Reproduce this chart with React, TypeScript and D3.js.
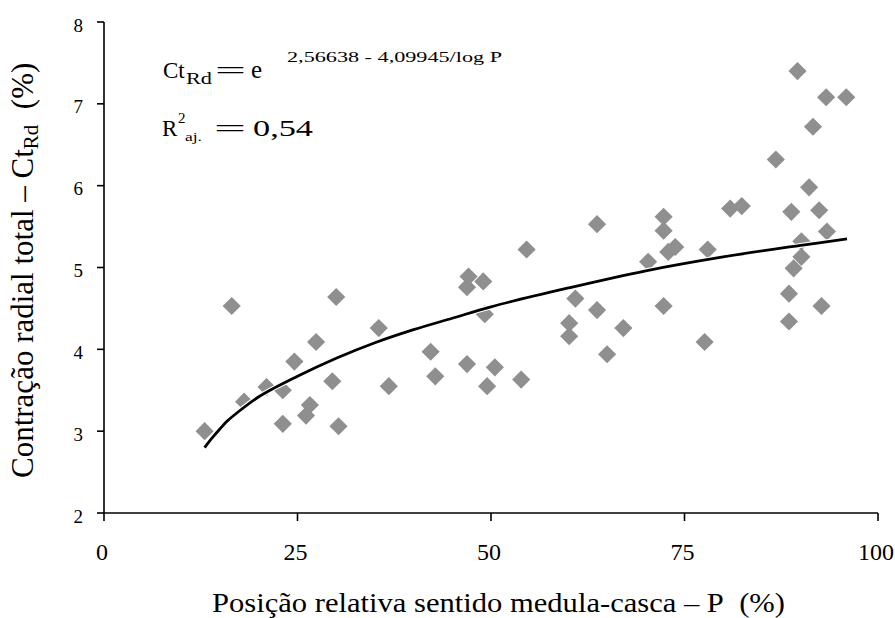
import React from "react";
import * as d3 from "d3";

// Observed data points: P (%) and CtRd (%)
const pointsP = [
  13.0, 16.5, 18.1, 21.0, 23.1, 24.6, 27.4, 30.0, 29.5, 26.6, 26.1, 23.1, 30.3,
  35.5, 36.8, 42.2, 42.8, 46.9, 49.5, 50.5, 53.9, 54.6, 47.1, 46.9, 49.0, 49.2,
  60.1, 60.1, 60.9, 63.7, 63.7, 67.1, 65.0, 70.3, 72.3, 72.3, 73.8, 72.9, 72.3,
  78.0, 77.6, 80.9, 82.4, 89.6, 93.3, 95.9, 91.6, 86.8, 91.1, 88.8, 92.4, 93.4,
  90.1, 90.1, 89.1, 88.5, 92.7, 88.5,
];
const pointsV = [
  3.0, 4.53, 3.36, 3.54, 3.5, 3.85, 4.09, 4.64, 3.61, 3.32, 3.19, 3.09, 3.06,
  4.26, 3.55, 3.97, 3.67, 3.82, 3.55, 3.78, 3.63, 5.22, 4.89, 4.76, 4.83, 4.43,
  4.32, 4.16, 4.62, 4.48, 5.53, 4.26, 3.94, 5.07, 5.62, 5.45, 5.25, 5.19, 4.53,
  5.22, 4.09, 5.72, 5.75, 7.4, 7.08, 7.08, 6.72, 6.32, 5.98, 5.68, 5.7, 5.44,
  5.32, 5.13, 4.99, 4.68, 4.53, 4.34,
];

// Fitted curve
const curveP = [13, 14, 15, 16, 17, 20, 25, 30, 35, 40, 45, 50, 60, 70, 80, 90, 96];
const curveV = [2.8, 2.92, 3.03, 3.13, 3.21, 3.42, 3.67, 3.89, 4.08, 4.24, 4.38, 4.52, 4.75, 4.96, 5.13, 5.27, 5.35];

const xTicks = [0, 25, 50, 75, 100];
const yTicks = [2, 3, 4, 5, 6, 7, 8];

const W = 895;
const H = 618;
const FF = "Liberation Serif";

export default function App() {
  const x = d3.scaleLinear().domain([0, 100]).range([104, 878]);
  const y = d3.scaleLinear().domain([2, 8]).range([513, 22]);

  const line = d3
    .line<number>()
    .x((_, i) => x(curveP[i]))
    .y((v) => y(v))
    .curve(d3.curveCatmullRom);
  const curvePath = line(curveV) || "";

  const diamond = d3.symbol().type(d3.symbolSquare).size(165)() || "";

  return (
    <svg
      width={W}
      height={H}
      fontFamily={FF}
      style={{ position: "absolute", left: 0, top: 0, background: "#fff" }}
    >
      <rect x={0} y={0} width={W} height={H} fill="#fff" />

      {/* points */}
      <g fill="#8f8f8f">
        {pointsP.map((p, i) => (
          <path
            key={i}
            d={diamond}
            transform={`translate(${x(p)},${y(pointsV[i])}) rotate(45)`}
          />
        ))}
      </g>

      {/* fitted curve */}
      <path d={curvePath} fill="none" stroke="#fff" strokeWidth={5} />
      <path d={curvePath} fill="none" stroke="#000" strokeWidth={2.8} />

      {/* axes */}
      <g stroke="#000" strokeWidth={1.6} fill="none">
        <line x1={x(0)} y1={y(8)} x2={x(0)} y2={y(2)} />
        <line x1={x(0)} y1={y(2)} x2={x(100)} y2={y(2)} />
        {yTicks.map((t) => (
          <line key={"yt" + t} x1={x(0) - 7} x2={x(0)} y1={y(t)} y2={y(t)} />
        ))}
        {xTicks.map((t) => (
          <line key={"xt" + t} x1={x(t)} x2={x(t)} y1={y(2)} y2={y(2) + 8} />
        ))}
      </g>

      {/* tick labels */}
      {yTicks.map((t) => (
        <text key={"yl" + t} x={83} y={y(t) + 9.5} fontFamily={FF} fontSize={19} textAnchor="end">
          {t}
        </text>
      ))}
      {xTicks.map((t) => (
        <text key={"xl" + t} x={x(t) - 2} y={560} fontFamily={FF} fontSize={24} textAnchor="middle">
          {t}
        </text>
      ))}

      {/* axis titles */}
      <text
        x={212}
        y={612}
        fontFamily={FF}
        fontSize={27}
        textLength={573}
        lengthAdjust="spacingAndGlyphs"
      >
        {"Posição relativa sentido medula-casca – P\u00a0\u00a0(%)"}
      </text>
      <g transform="translate(33,478) rotate(-90)">
        <text x={0} y={0} fontFamily={FF} fontSize={31}>
          Contração radial total – Ct
          <tspan fontSize={21} dy={5}>Rd</tspan>
          <tspan dy={-5}>{"\u00a0\u00a0(%)"}</tspan>
        </text>
      </g>

      {/* equation */}
      <g fill="#000">
        <text x={163} y={78} fontFamily={FF} fontSize={23}>Ct</text>
        <text x={186} y={84} fontFamily={FF} fontSize={16} textLength={26} lengthAdjust="spacingAndGlyphs">Rd</text>
        <text x={215} y={78} fontFamily={FF} fontSize={23} textLength={31} lengthAdjust="spacingAndGlyphs">=</text>
        <text x={251} y={78} fontFamily={FF} fontSize={25}>e</text>
        <text x={287} y={62} fontFamily={FF} fontSize={15} textLength={215} lengthAdjust="spacingAndGlyphs">
          2,56638 - 4,09945/log P
        </text>

        <text x={162} y={136} fontFamily={FF} fontSize={23}>R</text>
        <text x={178} y={123} fontFamily={FF} fontSize={15}>2</text>
        <text x={185} y={141} fontFamily={FF} fontSize={13} textLength={17} lengthAdjust="spacingAndGlyphs">aj.</text>
        <text x={214} y={136} fontFamily={FF} fontSize={23} textLength={32} lengthAdjust="spacingAndGlyphs">=</text>
        <text x={253} y={136} fontFamily={FF} fontSize={24} textLength={60} lengthAdjust="spacingAndGlyphs">0,54</text>
      </g>
    </svg>
  );
}
